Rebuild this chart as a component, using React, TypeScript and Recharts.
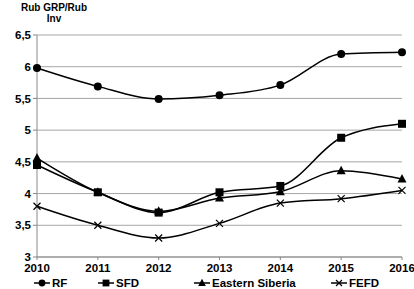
import { CartesianGrid, Legend, Line, LineChart, XAxis, YAxis } from 'recharts'

const years = ['2010', '2011', '2012', '2013', '2014', '2015', '2016']
const rf = [5.98, 5.69, 5.49, 5.55, 5.71, 6.2, 6.23]
const sfd = [4.45, 4.02, 3.7, 4.02, 4.12, 4.88, 5.1]
const easternSiberia = [4.56, 4.02, 3.72, 3.93, 4.03, 4.36, 4.23]
const fefd = [3.8, 3.5, 3.3, 3.53, 3.85, 3.92, 4.05]
const yTicks = [3, 3.5, 4, 4.5, 5, 5.5, 6, 6.5]

const data = years.map((year, i) => ({ year, rf: rf[i], sfd: sfd[i], es: easternSiberia[i], fefd: fefd[i] }))

const font = '"Liberation Sans", Arial, sans-serif'
const tickStyle = { fill: '#000', fontSize: 11.5, fontWeight: 'bold', fontFamily: font }

type Shape = 'circle' | 'square' | 'triangle' | 'cross'

function Marker({ cx, cy, shape, size = 1 }: { cx: number; cy: number; shape: Shape; size?: number }) {
  const s = size
  if (shape === 'circle') return <circle cx={cx} cy={cy} r={4 * s} fill="#000" />
  if (shape === 'square') return <rect x={cx - 4 * s} y={cy - 4 * s} width={8 * s} height={8 * s} fill="#000" />
  if (shape === 'triangle') return <path d={`M${cx},${cy - 5 * s}L${cx + 4.5 * s},${cy + 3.5 * s}L${cx - 4.5 * s},${cy + 3.5 * s}Z`} fill="#000" />
  return <path d={`M${cx - 3.5 * s},${cy - 3.5 * s}L${cx + 3.5 * s},${cy + 3.5 * s}M${cx + 3.5 * s},${cy - 3.5 * s}L${cx - 3.5 * s},${cy + 3.5 * s}`} stroke="#000" strokeWidth={1.2} />
}

const dot = (shape: Shape) => (props: any) => <Marker key={`${shape}-${props.index}`} cx={props.cx} cy={props.cy} shape={shape} />

const legendItems: { label: string; shape: Shape; x: number }[] = [
  { label: 'RF', shape: 'circle', x: 34 },
  { label: 'SFD', shape: 'square', x: 98 },
  { label: 'Eastern Siberia', shape: 'triangle', x: 194 },
  { label: 'FEFD', shape: 'cross', x: 331 },
]

function LegendContent() {
  return (
    <svg width={414} height={14} style={{ display: 'block' }}>
      {legendItems.map((item) => (
        <g key={item.label}>
          <line x1={item.x} x2={item.x + 16} y1={6} y2={6} stroke="#000" strokeWidth={1.5} />
          <Marker cx={item.x + 8} cy={6} shape={item.shape} size={0.85} />
          <text x={item.x + 18} y={10} fontFamily={font} fontWeight="bold" fontSize={11.5} fill="#000">{item.label}</text>
        </g>
      ))}
    </svg>
  )
}

export default function App() {
  return (
    <div style={{ position: 'relative', width: 414, height: 289, background: '#fff', fontFamily: font }}>
      <style>{'body{margin:0}'}</style>
      <div style={{ position: 'absolute', left: 17, top: 2, fontSize: 10, fontWeight: 'bold', lineHeight: '11px', textAlign: 'center', width: 74 }}>
        Rub GRP/Rub<br />Inv
      </div>
      <LineChart width={414} height={289} data={data} margin={{ top: 35, right: 12, left: 0, bottom: 0 }}>
        <CartesianGrid vertical={false} stroke="#a6a6a6" />
        <XAxis dataKey="year" height={20} stroke="#888" tickSize={3} tickLine={{ stroke: '#888' }} tick={{ ...tickStyle, dy: 2 }} />
        <YAxis domain={[3, 6.5]} ticks={yTicks} width={37} stroke="#888" tickSize={4} tickFormatter={(v: number) => String(v).replace('.', ',')} tick={tickStyle} />
        <Legend verticalAlign="bottom" height={12} content={() => <LegendContent />} wrapperStyle={{ left: 0, width: 414 }} />
        <Line type="monotone" dataKey="rf" stroke="#000" strokeWidth={1.5} dot={dot('circle')} isAnimationActive={false} />
        <Line type="monotone" dataKey="sfd" stroke="#000" strokeWidth={1.5} dot={dot('square')} isAnimationActive={false} />
        <Line type="monotone" dataKey="es" stroke="#000" strokeWidth={1.5} dot={dot('triangle')} isAnimationActive={false} />
        <Line type="monotone" dataKey="fefd" stroke="#000" strokeWidth={1.5} dot={dot('cross')} isAnimationActive={false} />
      </LineChart>
    </div>
  )
}
